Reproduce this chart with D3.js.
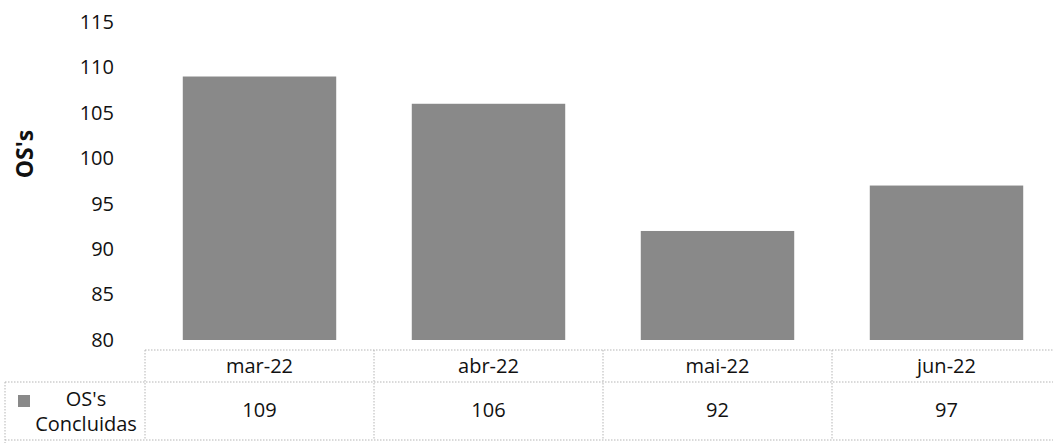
<!DOCTYPE html>
<html>
<head>
<meta charset="utf-8">
<script src="https://cdn.jsdelivr.net/npm/d3@7/dist/d3.min.js"></script>
<style>
  html, body { margin: 0; padding: 0; background: #fff; }
  svg { display: block; }
  text { font-family: "Open Sans", "Lato", sans-serif; fill: #111; }
</style>
</head>
<body>
<svg id="chart" width="1053" height="443"></svg>
<script>
const categories = ["mar-22", "abr-22", "mai-22", "jun-22"];
const values = [109, 106, 92, 97];
const seriesName = ["OS's", "Concluidas"];
const yTicks = [80, 85, 90, 95, 100, 105, 110, 115];
const yTitle = "OS's";

const svg = d3.select("#chart");
const W = 1053, H = 443;
const FS = "20px";

const tableLeft = 145, tableRight = 1061;
const headerTop = 350, tableBottom = 440;
const legendLeft = 5, legendTop = 382;

const y = d3.scaleLinear().domain([80, 115]).range([340, 22]);
const xTable = d3.scaleBand().domain(categories).range([tableLeft, tableRight]).padding(0);
const xBar = d3.scaleBand().domain(categories).range([tableLeft, tableRight])
  .paddingInner(0.33).paddingOuter(0.165);

// bars
svg.append("g").selectAll("rect").data(values).join("rect")
  .attr("x", (d, i) => xBar(categories[i]))
  .attr("width", xBar.bandwidth())
  .attr("y", d => y(d))
  .attr("height", d => y(80) - y(d))
  .attr("fill", "#898989");

// y axis (labels only)
const yAxis = d3.axisLeft(y).tickValues(yTicks).tickSize(0).tickPadding(0);
const gy = svg.append("g").attr("transform", "translate(114,0)").call(yAxis);
gy.select(".domain").remove();
gy.selectAll("text").style("font-family", "'Open Sans', sans-serif").style("font-size", FS).attr("fill", "#111");

// y title
svg.append("text")
  .attr("transform", "translate(33,154) rotate(-90)")
  .attr("text-anchor", "middle")
  .style("font-size", "23px").style("font-weight", "bold")
  .text(yTitle);

// data table
const lineStyle = g => g.attr("stroke", "#b5b5b5").attr("stroke-width", 1).attr("stroke-dasharray", "1.5,1.5").attr("fill", "none");
const tg = svg.append("g");
tg.append("line").attr("x1", tableLeft).attr("x2", tableRight).attr("y1", headerTop).attr("y2", headerTop).call(lineStyle);
tg.append("line").attr("x1", legendLeft).attr("x2", tableRight).attr("y1", legendTop).attr("y2", legendTop).call(lineStyle);
tg.append("line").attr("x1", legendLeft).attr("x2", tableRight).attr("y1", tableBottom).attr("y2", tableBottom).call(lineStyle);
tg.append("line").attr("x1", legendLeft).attr("x2", legendLeft).attr("y1", legendTop).attr("y2", H).call(lineStyle);
tg.selectAll("line.v").data(categories).join("line").attr("class", "v")
  .attr("x1", d => xTable(d)).attr("x2", d => xTable(d))
  .attr("y1", headerTop).attr("y2", tableBottom).call(lineStyle);

// header labels
tg.selectAll("text.cat").data(categories).join("text").attr("class", "cat")
  .attr("x", d => xTable(d) + xTable.bandwidth() / 2)
  .attr("y", 366).attr("dy", "0.35em").attr("text-anchor", "middle")
  .style("font-size", FS).text(d => d);

// values
tg.selectAll("text.val").data(values).join("text").attr("class", "val")
  .attr("x", (d, i) => xTable(categories[i]) + xTable.bandwidth() / 2)
  .attr("y", 410).attr("dy", "0.35em").attr("text-anchor", "middle")
  .style("font-size", FS).text(d => d);

// legend cell
tg.append("rect").attr("x", 18).attr("y", 395).attr("width", 12).attr("height", 12).attr("fill", "#898989");
tg.append("text").attr("x", 86).attr("y", 399).attr("dy", "0.35em").attr("text-anchor", "middle")
  .style("font-size", FS).text(seriesName[0]);
tg.append("text").attr("x", 86).attr("y", 424).attr("dy", "0.35em").attr("text-anchor", "middle")
  .style("font-size", FS).text(seriesName[1]);
</script>
</body>
</html>
